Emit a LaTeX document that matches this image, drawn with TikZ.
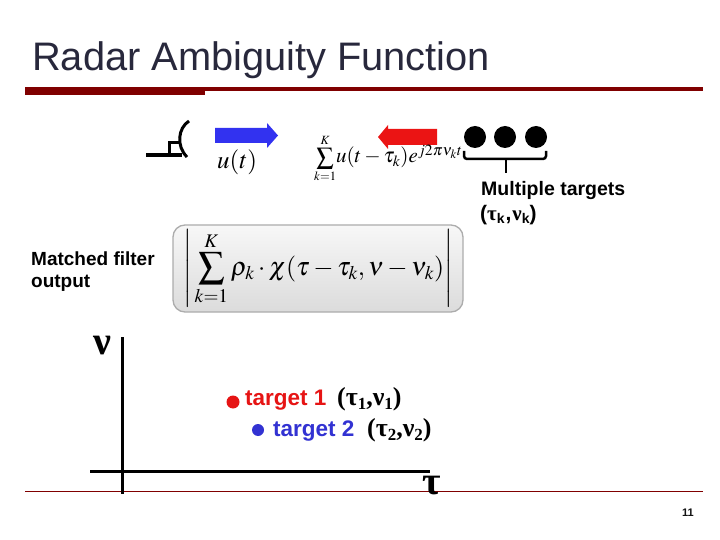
\documentclass[tikz,border=0pt]{standalone}
\usepackage{mathptmx}
\usepackage[no-math]{fontspec}
\setmainfont{Liberation Sans}
\newfontfamily\serifgr{Liberation Serif}
\definecolor{titlec}{RGB}{40,40,60}
\definecolor{maroon}{RGB}{128,0,0}
\definecolor{arrblue}{RGB}{50,50,240}
\definecolor{arrred}{RGB}{235,20,20}
\definecolor{tred}{RGB}{230,20,20}
\definecolor{tblue}{RGB}{50,50,210}
\tikzset{
  txt/.style={inner sep=0pt, anchor=base west},
  fbox/.style={draw=gray!65, line width=1.3pt, rounded corners=12pt, top color=gray!6, bottom color=gray!28, inner sep=0pt},
  axis/.style={line width=3pt},
  brace/.style={line width=2.5pt, rounded corners=3pt},
}
\begin{document}
\begin{tikzpicture}[x=1pt,y=-1pt]
\useasboundingbox (0,0) rectangle (720,540);
% title
\node[txt, text=titlec] (title) at (32,71) {\fontsize{39.8}{44}\selectfont Radar Ambiguity Function};
\fill[maroon] (25,87) rectangle (205,95);
\fill[maroon] (205,87) rectangle (703,91);
\draw[maroon, line width=1pt] (25,491) -- (703,491);
\node[txt, text=gray!15!black] (pg) at (682,516) {\fontsize{11}{13}\selectfont\bfseries 11};
% antenna
\draw[line width=4pt] (146,155) -- (182,155);
\draw[line width=3pt] (169.5,156) -- (169.5,143) -- (181,143);
\draw[line width=3pt] (189,121) .. controls (178,128) and (176,146) .. (187,157);
% arrows
\fill[arrblue] (215,128) -- (267,128) -- (267,123) -- (278,135.5) -- (267,148) -- (267,143) -- (215,143) -- cycle;
\fill[arrred] (437,129) -- (388,129) -- (388,125) -- (378,137) -- (388,149) -- (388,145) -- (437,145) -- cycle;
\node[txt] (ut) at (217,169) {\fontsize{25}{30}\selectfont$u(t)$};
\node[txt] (rx) at (314,163) {{\fontsize{17}{21}\selectfont$\displaystyle\sum_{k=1}^{K}$}{\fontsize{21}{25}\selectfont$u(t-\tau_k)e^{j2\pi\nu_k t}$}};
% targets
\fill (475,137) circle (11);
\fill (505,137) circle (11);
\fill (536,137) circle (11);
\draw[brace] (464,151) -- (464,159) -- (546,159) -- (546,151);
\draw[line width=2.5pt] (506,159) -- (506,173);
\node[txt] (mt) at (481,196) {\fontsize{19.5}{23}\selectfont\bfseries Multiple targets};
\node[txt] (mtk) at (480,221) {\fontsize{21}{24}\selectfont\bfseries ({\serifgr τ}\raisebox{-3pt}{\fontsize{14}{16}\selectfont k}{\kern1pt},{\kern1pt}{\serifgr ν}\raisebox{-3pt}{\fontsize{14}{16}\selectfont k})};
% matched filter
\node[txt] (mf1) at (31,265) {\fontsize{19}{22}\selectfont\bfseries Matched filter};
\node[txt] (mf2) at (31,287) {\fontsize{19}{22}\selectfont\bfseries output};
\node[fbox, minimum width=290pt, minimum height=87pt] (mfb) at (318,268.5) {\fontsize{26}{30}\selectfont$\displaystyle\left|\,\sum_{k=1}^{K}\rho_k\cdot\chi(\tau-\tau_k,\nu-\nu_k)\right|$};
% axes
\draw[axis] (122.5,337) -- (122.5,494);
\draw[axis] (90,471.5) -- (430,471.5);
\node (nu) at (102,346) {\fontsize{40}{42}\selectfont\serifgr\bfseries ν};
\node (tau) at (432,486) {\fontsize{40}{42}\selectfont\serifgr\bfseries τ};
\fill[tred] (233,402) circle (6.5);
\node[txt, text=tred] (t1) at (245,405) {\fontsize{22.5}{26}\selectfont\bfseries target 1};
\node[txt] (t1c) at (337,405) {\fontsize{26}{30}\selectfont\serifgr\bfseries (τ\raisebox{-4pt}{\fontsize{17}{19}\selectfont 1},ν\raisebox{-4pt}{\fontsize{17}{19}\selectfont 1})};
\fill[tblue] (258,430) circle (6);
\node[txt, text=tblue] (t2) at (273,436) {\fontsize{22.5}{26}\selectfont\bfseries target 2};
\node[txt] (t2c) at (367,436) {\fontsize{26}{30}\selectfont\serifgr\bfseries (τ\raisebox{-4pt}{\fontsize{17}{19}\selectfont 2},ν\raisebox{-4pt}{\fontsize{17}{19}\selectfont 2})};
\end{tikzpicture}
\end{document}
